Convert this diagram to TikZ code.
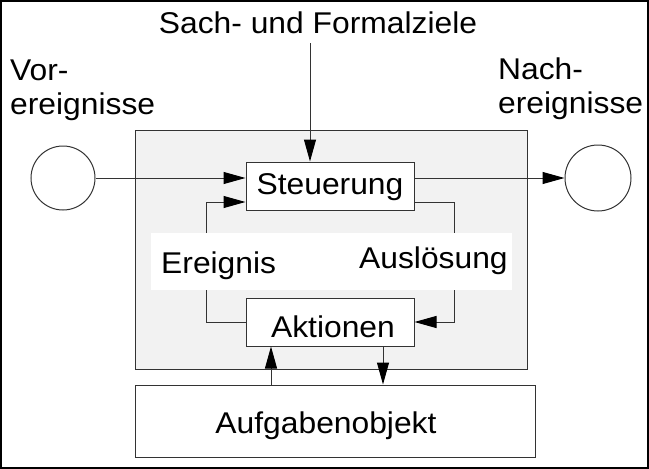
\documentclass[tikz,border=0pt]{standalone}
\usepackage{fontspec}
\setmainfont{Liberation Sans}[FakeStretch=1.06]
\usetikzlibrary{arrows.meta}
\definecolor{lineclr}{HTML}{333333}
\definecolor{panelgray}{HTML}{F2F2F2}
\tikzset{
  conn/.style={draw=lineclr, line width=1pt},
  arr/.style={conn, -{Triangle[length=22pt,width=12pt,color=black]}},
  boxnode/.style={draw=lineclr, line width=1pt, fill=white, rectangle, inner sep=0pt},
  lbl/.style={inner sep=0pt, font=\fontsize{30}{34}\selectfont},
  circ/.style={draw=lineclr, line width=1pt, fill=white, circle, inner sep=0pt},
}
\begin{document}
\begin{tikzpicture}[x=1pt, y=-1pt]
\useasboundingbox (0,0) rectangle (649,469);
% outer frame
\draw[line width=1.6pt] (0.8,0.8) rectangle (648.2,468);
\draw[line width=2.5pt] (0,467.8) -- (649,467.8);
% gray panel
\node[draw=lineclr, line width=1pt, fill=panelgray, rectangle, inner sep=0pt,
      minimum width=392pt, minimum height=239pt] (panel) at (331,249.5) {};
% boxes
\node[boxnode, lbl, minimum width=168pt, minimum height=48pt, text height=22pt, text depth=6pt]
  (steu) at (330,186) {Steuerung};
\node[boxnode, lbl, minimum width=168pt, minimum height=48pt, text height=36pt, text depth=6pt]
  (akt) at (330,322) {\hspace*{6pt}Aktionen};
\node[boxnode, lbl, minimum width=400pt, minimum height=72pt, text height=28pt, text depth=4pt]
  (aufg) at (335,421) {Aufgabenobjekt\hspace*{18pt}};
% circles
\node[circ, minimum size=64pt] (vor) at (63,178) {};
\node[circ, minimum size=66pt] (nach) at (598,178) {};
% top label
\node[lbl, anchor=base] (sach) at (318,33) {Sach- und Formalziele};
\coordinate (sachS) at (310,43);
% side labels (base anchor = baseline of last line)
\node[lbl, anchor=base west, align=left] (vortxt) at (10,114) {Vor-\\ereignisse};
\node[lbl, anchor=base west, align=left] (nachtxt) at (498,113) {Nach-\\ereignisse};
% connectors
\draw[arr] (sachS) -- (sachS |- steu.north);
\draw[arr] (vor.east) -- (vor.east -| steu.west);
\draw[arr] (steu.east |- nach.west) -- (nach.west);
\draw[arr] (akt.west) -- ++(-39,0) |- ([yshift=-16pt]steu.west);
\draw[arr] ([yshift=-16pt]steu.east) -- ++(40,0) |- (akt.east);
\draw[arr] ([xshift=-59pt]akt.south |- aufg.north) -- ([xshift=-59pt]akt.south);
\draw[arr] ([xshift=53pt]akt.south) -- ([xshift=53pt]akt.south |- aufg.north);
% white band behind loop labels
\fill[white] (151,233) rectangle (512,290);
\node[lbl, anchor=base west] (ereig) at (161,273) {Ereignis};
\node[lbl, anchor=base west] (ausl) at (359,268) {Auslösung};
\end{tikzpicture}
\end{document}
